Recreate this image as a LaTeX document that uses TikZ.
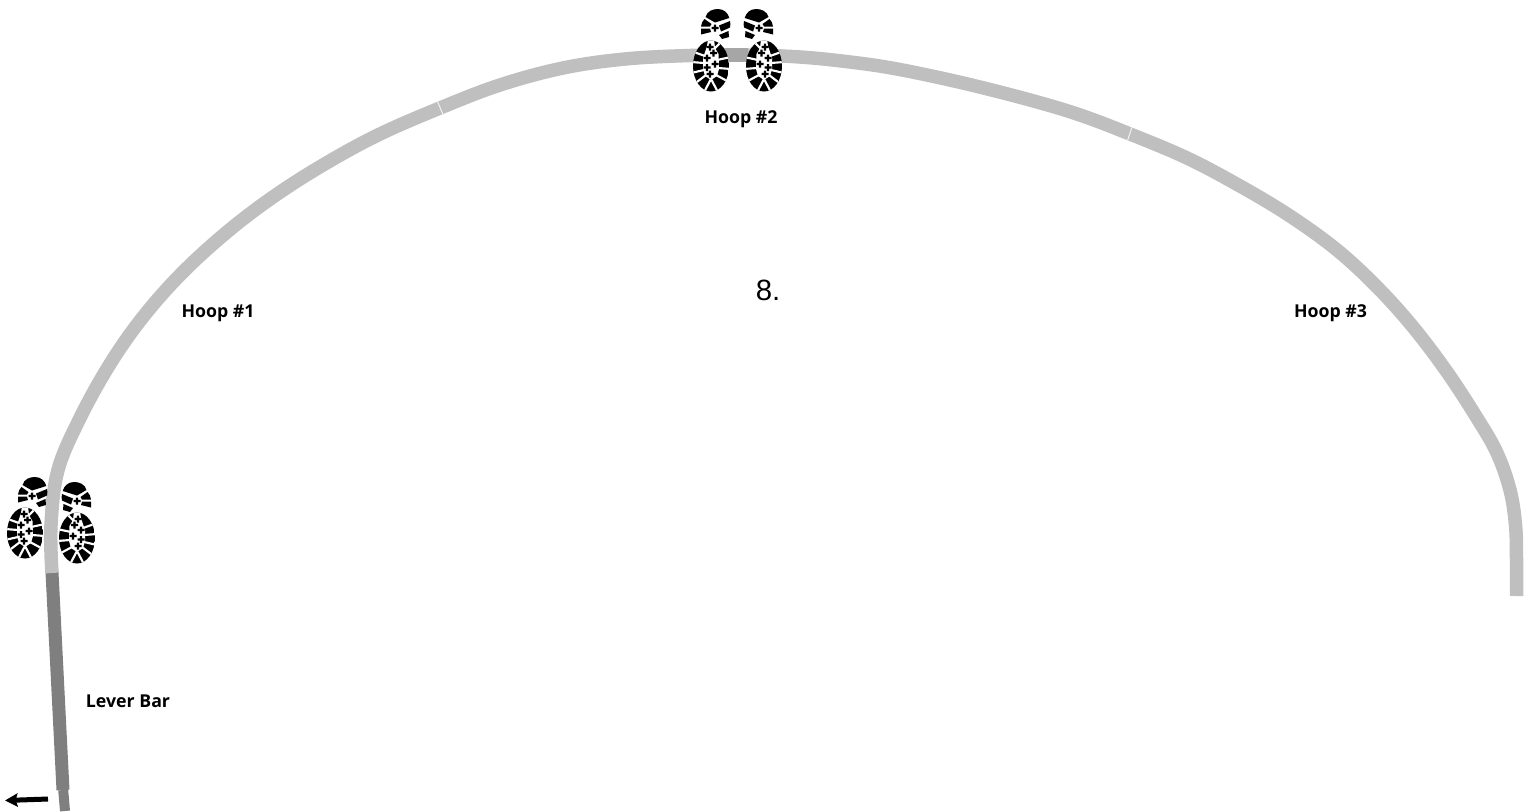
\documentclass[tikz,border=0pt]{standalone}
\usepackage{fontspec}
\setmainfont{Liberation Sans}
\newfontfamily\labelfont[Ligatures=TeX]{Open Sans}
\usetikzlibrary{arrows.meta}
\definecolor{hoopgray}{HTML}{BFBFBF}
\definecolor{overlapgray}{HTML}{A6A6A6}
\definecolor{levergray}{HTML}{7F7F7F}
\tikzset{
  hooplabel/.style={font=\labelfont\bfseries\fontsize{13.3}{16}\selectfont,text=black,inner sep=0pt},
  whiteline/.style={white,line width=1.6pt},
  plusmark/.pic={\fill[black] (-1.2,-3.5) rectangle (1.2,3.5) (-3.5,-1.2) rectangle (3.5,1.2);},
  sole/.pic={
    \begin{scope}
      \clip (0,0) ellipse [x radius=18, y radius=25.5];
      \fill[black] (-18,-26) rectangle (18,26);
      \fill[white] (-3,-27) -- (3,-27) -- (4,-18) -- (7.5,-12) -- (8,3) -- (6,10) -- (0,14)
        -- (-6,10) -- (-8,3) -- (-8,-8) -- (-6,-14) -- (-4,-20) -- cycle;
      \draw[whiteline] (-6,-10) -- (-20,-15);
      \draw[whiteline] (-7,-3) -- (-20,-4);
      \draw[whiteline] (-7,4) -- (-20,7);
      \draw[whiteline] (-5,9) -- (-18,19);
      \draw[whiteline] (3,-17) -- (13,-27);
      \draw[whiteline] (6,-6) -- (20,-9);
      \draw[whiteline] (7,2) -- (20,3);
      \draw[whiteline] (5,9) -- (18,16);
      \draw[whiteline] (0,13) -- (-9,30);
      \draw[whiteline] (0,13) -- (9,30);
    \end{scope}
    \foreach \p in {(-1,-19),(2.5,-13),(-4,-8),(4,-2),(-4,1.5),(-1,8)}
      \pic at \p {plusmark};
  },
  toe/.pic={
    \fill[black] (-9.5,-7) .. controls (-8,-13) and (-2,-15) .. (3,-15)
      .. controls (9,-15) and (13,-11) .. (14.3,-6) -- (0,-1.5) -- cycle;
    \fill[black] (-10.5,-5) -- (-3.5,0) -- (-5,2.5) -- (-14,2.5) .. controls (-14,-1) and (-12,-3) .. (-10.5,-5) -- cycle;
    \fill[black] (-14,4.5) -- (-5,4.5) -- (-4,8) -- (-14,10.5) -- cycle;
    \fill[black] (4,1.5) -- (15,-3) .. controls (15.5,-1) and (15.5,1.5) .. (15,3.5) -- (6,7.5) -- cycle;
    \fill[black] (4,11) -- (13.5,7) -- (14,13) -- (7,15) -- cycle;
    \pic at (0,4) {plusmark};
  }
}
\begin{document}
\begin{tikzpicture}[x=0.75pt,y=-0.75pt]
\useasboundingbox (0,0) rectangle (1533,811);
% lever bar
\draw[levergray,line width=0.75*13pt] (52,572) -- (63,790);
\draw[levergray,line width=0.75*10pt] (63.2,790) -- (65,811);
% hoop
\draw[hoopgray,line width=0.75*13.5pt,line join=round]
  plot[smooth,tension=0.6] coordinates {(52,573) (51,525) (58,470) (80,418) (110,364) (143,317) (182,273)
   (227,232) (273,197) (323,165) (378,135) (440,108) (500,85) (563,68) (625,59) (690,55.5) (745,55)
   (800,57) (850,62) (897,69) (963,83) (1030,100) (1080,115) (1130,134) (1187,158) (1240,186) (1290,216)
   (1337,250) (1377,287) (1413,327) (1447,372) (1477,418) (1497,453) (1510,490) (1515.5,525) (1516.5,560) (1516.5,596)};
% darker overlap between Hoop #2 boots
\draw[overlapgray,line width=0.75*13.5pt] (725,55) -- (748,55);
% seams
\draw[white!85!hoopgray,line width=0.7pt] (437.5,101.5) -- (443,114.5);
\draw[white!85!hoopgray,line width=0.7pt] (1132,127) -- (1127.7,140);
% boots at Hoop #1
\pic at (25,533) {sole};
\pic[xscale=-1] at (77,538) {sole};
\pic at (32,492) {toe};
\pic[xscale=-1] at (77,497) {toe};
% boots at Hoop #2
\pic at (711,66) {sole};
\pic[xscale=-1] at (764,66) {sole};
\pic at (715,24) {toe};
\pic[xscale=-1] at (759,24) {toe};
% arrow
\coordinate (arrowtail) at (48,799);
\coordinate (arrowhead) at (5,800.5);
\draw[black,line width=0.75*5pt,-{Stealth[length=9.5pt,width=10pt,inset=1.5pt]}] (arrowtail) -- (arrowhead);
% labels
\node[hooplabel] (hoopone) at (218,313) {Hoop \#1};
\node[hooplabel] (hooptwo) at (741,119) {Hoop \#2};
\node[hooplabel] (hoopthree) at (1330.5,313) {Hoop \#3};
\node[hooplabel] (lever) at (128,701.5) {Lever Bar};
\node[font=\fontsize{22}{26}\selectfont,inner sep=0pt] (stepnum) at (768,290) {8.};
\end{tikzpicture}
\end{document}
